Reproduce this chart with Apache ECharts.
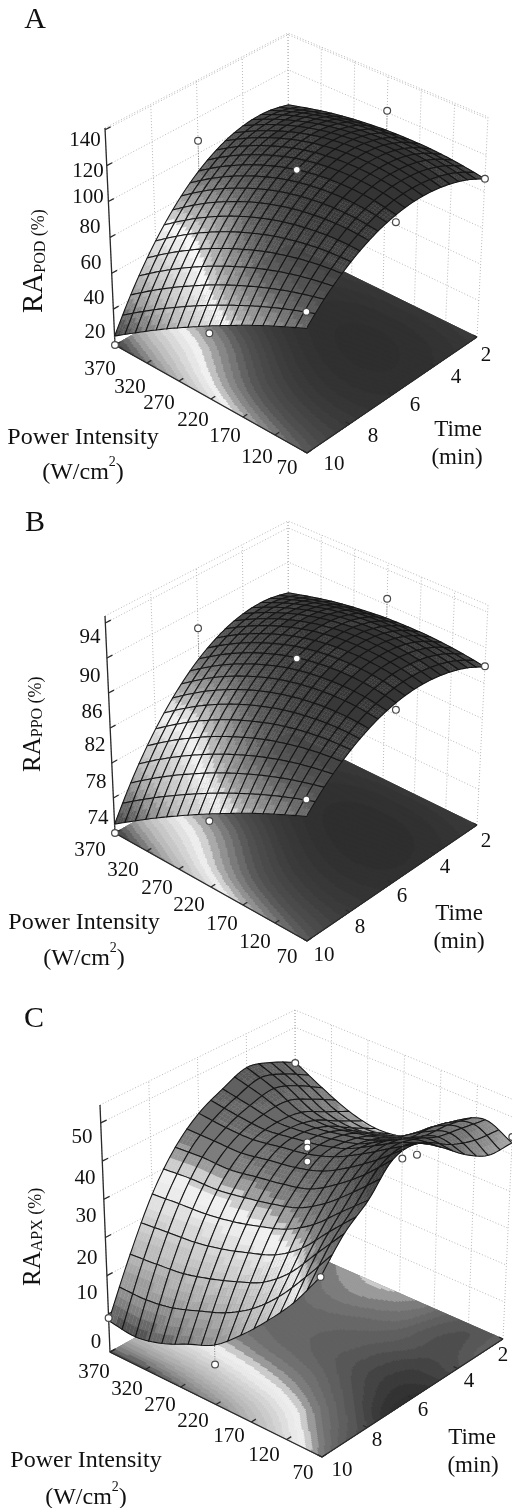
<!DOCTYPE html>
<html><head><meta charset="utf-8">
<style>html,body{margin:0;padding:0;background:#fff}#c{width:512px;height:1508px;filter:blur(0.4px)}</style>
<script src="https://cdn.jsdelivr.net/npm/echarts@6/dist/echarts.min.js"></script>
</head><body><div id="c"></div>
<script>
// ---------- DATA ----------
const powerTicks = [370,320,270,220,170,120,70];
const timeTicks = [10,8,6,4,2];
const zTicksA = [20,40,60,80,100,120,140];
const zTicksB = [70,74,78,82,86,90,94];
const zTicksC = [-10,0,10,20,30,40,50];
const zLabelsA = ['140','120','100','80','60','40','20'];
const zLabelsB = ['94','90','86','82','78','74'];
const zLabelsC = ['50','40','30','20','10','0'];
const powerAxisAB = [70,100,130,160,190,220,250,280,310,340,370];
const timeAxisAB = [2,2.8,3.6,4.4,5.2,6,6.8,7.6,8.4,9.2,10];
const powerAxisC = [70,107.5,145,182.5,220,257.5,295,332.5,370];
const timeAxisC = [2,3,4,5,6,7,8,9,10];
const podValues = [
[107,108.6,109.8,110.4,110.4,110,109,107.6,105.6,103,100],
[112.6,114.8,116.3,117.1,117.2,116.6,115.2,113.1,110.3,106.7,102.4],
[116.4,119,120.7,121.5,121.4,120.4,118.6,115.9,112.3,107.9,102.6],
[118.6,121.2,122.8,123.5,123.2,121.8,119.6,116.3,112,106.8,100.6],
[119.2,121.6,122.9,123.2,122.5,120.8,118,114.1,109.3,103.4,96.4],
[118,119.9,120.7,120.5,119.3,117,113.7,109.3,103.9,97.5,90],
[115.2,116.3,116.4,115.5,113.6,110.8,106.9,102,96.2,89.3,81.4],
[110.6,110.7,109.8,108,105.4,101.8,97.4,92,85.8,78.6,70.6],
[104.4,103.1,101.1,98.3,94.8,90.4,85.4,79.6,73,65.7,57.6],
[96.6,93.7,90.3,86.3,81.7,76.6,70.9,64.6,57.8,50.4,42.4],
[87,82.2,77.2,71.8,66,60,53.6,47,40,32.6,25]];
const ppoValues = [
[87.83,88.16,88.40,88.53,88.53,88.45,88.24,87.95,87.54,87.01,86.40],
[88.98,89.43,89.74,89.90,89.92,89.80,89.51,89.08,88.51,87.77,86.89],
[89.76,90.29,90.64,90.80,90.78,90.58,90.21,89.65,88.92,88.02,86.93],
[90.21,90.74,91.07,91.21,91.15,90.86,90.41,89.74,88.86,87.79,86.52],
[90.33,90.82,91.09,91.15,91.01,90.66,90.09,89.29,88.30,87.09,85.66],
[90.09,90.47,90.64,90.60,90.35,89.88,89.20,88.30,87.20,85.88,84.35],
[89.51,89.74,89.76,89.57,89.18,88.61,87.81,86.81,85.62,84.20,82.58],
[88.57,88.59,88.40,88.04,87.50,86.76,85.86,84.76,83.49,82.01,80.37],
[87.30,87.03,86.62,86.05,85.33,84.43,83.40,82.21,80.86,79.37,77.71],
[85.70,85.10,84.41,83.59,82.65,81.60,80.43,79.14,77.75,76.23,74.59],
[83.73,82.75,81.72,80.62,79.43,78.20,76.89,75.53,74.10,72.58,71.02]];
const apxValues = [
[43.1,46.3,43.1,36.6,32.7,31.7,33.3,36.6,40.5],
[43.4,47.6,45.0,39.2,36.6,35.3,36.6,40.5,43.7],
[47.3,48.9,45.6,42.4,40.5,39.2,39.8,43.1,45.6],
[52.8,51.8,48.2,44.3,42.4,41.1,40.5,41.8,43.1],
[57.3,52.8,48.2,44.3,41.8,40.5,39.2,39.2,39.8],
[56.6,49.5,43.7,39.2,37.2,35.9,34.6,34.6,34.0],
[49.5,43.1,36.6,32.1,29.5,27.5,26.2,25.6,24.9],
[44.3,35.9,27.5,21.7,18.5,15.9,13.9,13.0,12.3],
[36.6,26.6,18.5,11.4,5.5,2.3,-0.9,-2.6,-1.8]];
// measured design points: power, time, response
const pointsPower = {A:[370,220,70,370,220,220,70,70], B:[370,220,70,370,220,220,70,70], C:[370,220,220,220,220,220,70,70,70,370]};
const pointsTime  = {A:[10,10,10,6,6,2,6,2], B:[10,10,10,6,6,2,6,2], C:[2,6,6,6,2,10,6,2,10,10]};
const pointsValue = {A:[20,56,96,107,117,121,114,107], B:[70,77.4,85.6,87.9,89.8,90.7,89.3,87.9], C:[40.3,44.9,43.5,39.8,26.6,0.4,54.4,44.7,36.6,-1.1]};

// ---------- LAYOUT & STYLE ----------
const SERIF = '"Liberation Serif","Times New Roman",serif';
function shiftPanel(c,dy){const o={};for(const k in c)o[k]=[c[k][0],c[k][1]+dy];return o;}
const boxA = {L:[115,345],F:[307,453],R:[477,337],K:[289,245],TL:[105,128],TF:[306,228],TR:[488,117],TK:[288,33]};
const panels = [
 {key:'A',box:boxA,zr:[20,141],ticks:zTicksA,grid:podValues,meshS:18,meshT:20,step:4,shade:14,
  pal:[[25,70],[33,115],[40,160],[47,190],[54,212],[60,232],[65,245],[67,205],[69.5,180],[72,160],[74.5,145],[77,130],[81,115],[85,95],[90,82],[97,72],[104,62],[112,54],[122,46]],
  surf:[[25,70],[33,115],[40,160],[47,190],[54,212],[60,232],[65,248],[68,200],[72,172],[77,150],[83,125],[89,100],[95,85],[102,72],[110,60],[120,52]]},
 {key:'B',box:shiftPanel(boxA,488),zr:[70,94.8],ticks:zTicksB,grid:ppoValues,meshS:18,meshT:20,step:0.82,shade:2.9,
  pal:[[71,70],[72.7,115],[74.1,160],[75.5,190],[77,212],[78.2,232],[79.2,245],[79.6,205],[80.1,180],[80.7,160],[81.2,145],[81.7,130],[82.5,115],[83.3,95],[84.3,82],[85.8,72],[87.2,62],[88.9,54],[90.9,46]],
  surf:[[71,70],[72.7,115],[74.1,160],[75.5,190],[77,212],[78.2,232],[79.2,248],[79.8,200],[80.7,172],[81.7,150],[82.9,125],[84.1,100],[85.4,85],[86.8,72],[88.5,60],[90.5,52]]},
 {key:'C',box:{L:[110,1352],F:[322,1457],R:[503,1339],K:[296,1248],TL:[100,1105],TF:[320,1207],TR:[514,1100],TK:[295,1010]},zr:[-10,54.7],ticks:zTicksC,grid:apxValues,meshS:16,meshT:16,step:2.4,wing:70,shade:0,
  pal:[[-3,80],[-1.5,90],[2,125],[6,150],[10,170],[15,190],[20,208],[25,228],[28,243],[30,232],[32.6,172],[35,130],[38.5,112],[42,100],[45,90],[48,78],[52,62],[56,48]],
  surf:[[-3,80],[-1.5,90],[2,125],[6,150],[10,170],[15,190],[20,208],[25,228],[28,243],[30,232],[32.6,172],[35,130],[38.5,112],[42,100],[45,90],[48,78],[52,62],[56,48]]}
];
const texts = [
 ['A',35,20,30],['B',35,523,30],['C',34,1019,30],
 ['Power Intensity',83,438,24],['Time',458,430,23],['(min)',457,458,23],
 ['Power Intensity',84,923,24],['Time',459,914,23],['(min)',459,942,23],
 ['Power Intensity',86,1461,24],['Time',472,1438,23],['(min)',473,1466,23],
];
const supers = [[83,470],[84,956],[86,1495]];
const tickLabelPos = {
 zA:[[85,140],[88,171],[88,197],[90,227],[91,263],[94,298],[95,332]],
 pA:[[100,369],[130,387],[159,403],[193,420],[225,436],[257,457],[287,468]],
 tA:[[334,464],[373,436],[415,405],[456,377],[486,355]],
 zB:[[90,637],[90,676],[92,712],[95,745],[96,782],[98,818]],
 pB:[[90,850],[123,870],[157,888],[189,905],[222,924],[255,942],[287,957]],
 tB:[[324,955],[360,927],[402,896],[445,867],[486,841]],
 zC:[[82,1137],[85,1178],[86,1216],[87,1258],[87,1293],[96,1342]],
 pC:[[94,1372],[127,1389],[160,1405],[193,1421],[229,1436],[264,1455],[303,1473]],
 tC:[[342,1470],[377,1440],[423,1410],[469,1381],[503,1355]],
};
const yTitles = [
 {x:34,y:313,a:29,name:'POD',sub:16,pct:18},
 {x:33,y:772,a:25,name:'PPO',sub:16,pct:18},
 {x:33,y:1286,a:25,name:'APX',sub:16,pct:18},
];

// ---------- GEOMETRY ----------
function lerp(a,b,t){return a+(b-a)*t;}
function mkP(p){
 const b=p.box,zn=p.zr[0],zd=p.zr[1]-p.zr[0];
 // s: 0 at power 70, 1 at 370; u: 0 at time 2, 1 at time 10; w: 0 floor, 1 top
 const at=(s,u,w)=>{
  const f=i=>{
   const fl=lerp(lerp(b.R[i],b.K[i],s),lerp(b.F[i],b.L[i],s),u);
   const tp=lerp(lerp(b.TR[i],b.TK[i],s),lerp(b.TF[i],b.TL[i],s),u);
   return lerp(fl,tp,w);
  };
  return [f(0),f(1)];
 };
 at.z=(s,u,z)=>at(s,u,(z-zn)/zd);
 return at;
}
function cr(a,b,c,d,t){return 0.5*(2*b+(c-a)*t+(2*a-5*b+4*c-d)*t*t+(3*b-a-3*c+d)*t*t*t);}
function sampler(G){
 const R=G.length,C=G[0].length;
 const v=(r,c)=>{
  const rr=Math.max(0,Math.min(R-1,r)),cc=Math.max(0,Math.min(C-1,c));
  let x=G[rr][cc];
  if(r<0)x+=(G[0][cc]-G[1][cc])*(-r); if(r>R-1)x+=(G[R-1][cc]-G[R-2][cc])*(r-R+1);
  if(c<0)x+=(G[rr][0]-G[rr][1])*(-c); if(c>C-1)x+=(G[rr][C-1]-G[rr][C-2])*(c-C+1);
  return x;
 };
 return (s,u)=>{
  const fr=u*(R-1),fc=s*(C-1);
  const r0=Math.min(R-2,Math.floor(fr)),c0=Math.min(C-2,Math.floor(fc));
  const tr=fr-r0,tc=fc-c0,row=[];
  for(let k=-1;k<=2;k++)row.push(cr(v(r0+k,c0-1),v(r0+k,c0),v(r0+k,c0+1),v(r0+k,c0+2),tc));
  return cr(row[0],row[1],row[2],row[3],tr);
 };
}
function grayFn(pal,step){
 return z=>{
  z=Math.round(z/step)*step;
  let g;
  if(z<=pal[0][0])g=pal[0][1];
  else if(z>=pal[pal.length-1][0])g=pal[pal.length-1][1];
  else for(let i=0;i<pal.length-1;i++)if(z>=pal[i][0]&&z<=pal[i+1][0]){g=lerp(pal[i][1],pal[i+1][1],(z-pal[i][0])/(pal[i+1][0]-pal[i][0]));break;}
  return g;
 };
}
const rgb=g=>{g=Math.min(255,Math.round(g));return 'rgb('+g+','+g+','+g+')';};
function seriesFrom(shapes,z){
 return {type:'custom',coordinateSystem:'cartesian2d',silent:true,animation:false,clip:false,progressive:0,z:z,
  data:shapes.map((_,i)=>[i,0]),
  renderItem:(params,api)=>{
   const sh=shapes[api.value(0)];
   const pts=a=>a.map(q=>api.coord(q));
   const one=e=>{
    if(e.c){const c=api.coord(e.c);return {type:'circle',shape:{cx:c[0],cy:c[1],r:e.r},style:{fill:e.fill,stroke:e.stroke,lineWidth:e.lw}};}
    return {type:e.open?'polyline':'polygon',shape:{points:pts(e.p)},style:{fill:e.open?null:e.fill,stroke:e.stroke,lineWidth:e.lw,lineDash:e.dash||null}};
   };
   return sh.length===1?one(sh[0]):{type:'group',children:sh.map(one)};
  }};
}

const allSeries=[];
const graphics=[];
panels.forEach((p,pi)=>{
 const P=mkP(p),S=sampler(p.grid),floorG=grayFn(p.pal,p.step),surfG=grayFn(p.surf,p.step);
 const sOf=v=>(v-70)/300, uOf=v=>(v-2)/8;
 // colour level: the band pattern leans slightly away from the height in the mid field
 const cz=(s,u)=>S(s,u)-p.shade*Math.exp(-Math.pow((s-.75)/.3,2)-Math.pow((u-.7)/.25,2));
 // back walls
 const walls=[],DOT={stroke:'#b0b0b0',lw:0.9,dash:[1,2],open:true};
 const lvl=p.ticks.map(z=>(z-p.zr[0])/(p.zr[1]-p.zr[0])).concat([1]);
 lvl.forEach(w=>walls.push([Object.assign({p:[P(1,1,w),P(1,0,w),P(0,0,w)]},DOT)]));
 timeTicks.forEach(t=>walls.push([Object.assign({p:[P(1,uOf(t),0),P(1,uOf(t),1)]},DOT)]));
 powerTicks.forEach(v=>walls.push([Object.assign({p:[P(sOf(v),0,0),P(sOf(v),0,1)]},DOT)]));
 allSeries.push(seriesFrom(walls,1));
 // floor contour bands
 const floor=[[{p:[P(0,0,0),P(1,0,0),P(1,1,0),P(0,1,0)],fill:rgb(70),stroke:rgb(70),lw:0.5}]],NF=120;
 const fc=(s,u)=>rgb(floorG(cz(s,u)));
 for(let r=0;r<NF;r++){
  const u0=r/NF,u1=(r+1)/NF;let start=0,cur=fc(0.5/NF,(r+.5)/NF);
  for(let c=1;c<=NF;c++){
   const k=c<NF?fc((c+.5)/NF,(r+.5)/NF):null;
   if(k!==cur){
    const s0=start/NF,s1=c/NF;
    floor.push([{p:[P(s0,u0,0),P(s1,u0,0),P(s1,u1,0),P(s0,u1,0)],fill:cur,stroke:cur,lw:1}]);
    start=c;cur=k;
   }
  }
 }
 allSeries.push(seriesFrom(floor,2));
 // axis lines and ticks
 const axes=[],AX={stroke:'#2a2a2a',lw:1.3,open:true};
 axes.push([Object.assign({p:[P(1,1,1),P(1,1,0),P(0,1,0),P(0,0,0)]},AX)]);
 p.ticks.forEach(z=>{const w=(z-p.zr[0])/(p.zr[1]-p.zr[0]);axes.push([Object.assign({p:[P(1,1,w),P(1,0.97,w)]},AX)]);});
 powerTicks.forEach(v=>axes.push([Object.assign({p:[P(sOf(v),1,0),P(sOf(v),0.975,0)]},AX)]));
 timeTicks.forEach(t=>axes.push([Object.assign({p:[P(0,uOf(t),0),P(0.02,uOf(t),0)]},AX)]));
 allSeries.push(seriesFrom(axes,3));
 // surface, painted back to front
 const NC=p.meshT,NR=p.meshS,cells=[];
 const CSUB=4;
 const sc=(s,u)=>{
  let g=surfG(cz(s,u));
  if(p.wing)g+=p.wing*Math.max(0,1-s/0.4)*Math.max(0,1-u/0.55);
  return rgb(g);
 };
 for(let r=0;r<NC;r++){
  for(let c=NR-1;c>=0;c--){
   const s0=c/NR,s1=(c+1)/NR,u0=r/NC,u1=(r+1)/NC;
   const pt=(a,b)=>{const s=lerp(s0,s1,a),u=lerp(u0,u1,b);return P.z(s,u,S(s,u));};
   const subs=[],colors=new Set();
   for(let i=0;i<CSUB;i++)for(let j=0;j<CSUB;j++){
    const a0=i/CSUB,a1=(i+1)/CSUB,b0=j/CSUB,b1=(j+1)/CSUB;
    const k=sc(lerp(s0,s1,(a0+a1)/2),lerp(u0,u1,(b0+b1)/2));
    colors.add(k);subs.push({p:[pt(a0,b0),pt(a1,b0),pt(a1,b1),pt(a0,b1)],fill:k,stroke:k,lw:0.4});
   }
   const ring=[];
   for(let i=0;i<CSUB;i++)ring.push(pt(i/CSUB,0));
   for(let j=0;j<CSUB;j++)ring.push(pt(1,j/CSUB));
   for(let i=CSUB;i>0;i--)ring.push(pt(i/CSUB,1));
   for(let j=CSUB;j>=0;j--)ring.push(pt(0,j/CSUB));
   const out=colors.size===1?[{p:ring.slice(0,-1),fill:[...colors][0],stroke:[...colors][0],lw:0.4}]:subs;
   out.push({p:ring,stroke:'#151515',lw:1.05,open:true});
   cells.push(out);
  }
 }
 allSeries.push(seriesFrom(cells,4));
 // design points with stems to the fitted surface
 const pts=[];
 pointsPower[p.key].forEach((v,i)=>{
  const s=sOf(v),u=uOf(pointsTime[p.key][i]),z=pointsValue[p.key][i];
  pts.push([{p:[P.z(s,u,z),P.z(s,u,S(s,u))],stroke:'#777',lw:0.9,dash:[1,1.5],open:true}]);
 });
 pointsPower[p.key].forEach((v,i)=>{
  const s=sOf(v),u=uOf(pointsTime[p.key][i]),z=pointsValue[p.key][i];
  pts.push([{c:P.z(s,u,z),r:3.4,fill:'#fff',stroke:'#4a4a4a',lw:1.2}]);
 });
 allSeries.push(seriesFrom(pts,5));
 // tick labels
 const lab=(arr,pos,size)=>arr.forEach((t,i)=>graphics.push({type:'text',x:pos[i][0],y:pos[i][1],z:10,silent:true,
   style:{text:String(t),font:size+'px '+SERIF,fill:'#111',align:'center',verticalAlign:'middle'}}));
 lab({A:zLabelsA,B:zLabelsB,C:zLabelsC}[p.key],tickLabelPos['z'+p.key],21);
 lab(powerTicks,tickLabelPos['p'+p.key],21);
 lab(timeTicks,tickLabelPos['t'+p.key],21);
 // y title
 const y=yTitles[pi];
 graphics.push({type:'text',x:y.x,y:y.y,rotation:Math.PI/2,z:10,silent:true,style:{
   text:'{a|RA}{b|'+y.name+'}{c| (%)}',align:'left',verticalAlign:'middle',fill:'#111',
   rich:{a:{fontFamily:SERIF,fontSize:y.a,fill:'#111',verticalAlign:'bottom'},
         b:{fontFamily:SERIF,fontSize:y.sub,fill:'#111',verticalAlign:'bottom'},
         c:{fontFamily:SERIF,fontSize:y.pct,fill:'#111',verticalAlign:'bottom'}}}});
});
texts.forEach(t=>graphics.push({type:'text',x:t[1],y:t[2],z:10,silent:true,style:{text:t[0],font:t[3]+'px '+SERIF,fill:'#111',align:'center',verticalAlign:'middle'}}));
supers.forEach(q=>graphics.push({type:'text',x:q[0],y:q[1],z:10,silent:true,style:{
  text:'{m|(W/cm}{s|2}{m|)}',align:'center',verticalAlign:'middle',fill:'#111',
  rich:{m:{fontFamily:SERIF,fontSize:24,fill:'#111',verticalAlign:'bottom',lineHeight:30},s:{fontFamily:SERIF,fontSize:14,fill:'#111',verticalAlign:'top',lineHeight:30}}}}));

const chart=echarts.init(document.getElementById('c'),null,{renderer:'canvas',width:512,height:1508});
chart.setOption({
 animation:false,backgroundColor:'#fff',
 grid:{left:0,right:0,top:0,bottom:0},
 xAxis:{type:'value',min:0,max:512,show:false},
 yAxis:{type:'value',min:0,max:1508,inverse:true,show:false},
 series:allSeries,
 graphic:{elements:graphics}
});
</script></body></html>
